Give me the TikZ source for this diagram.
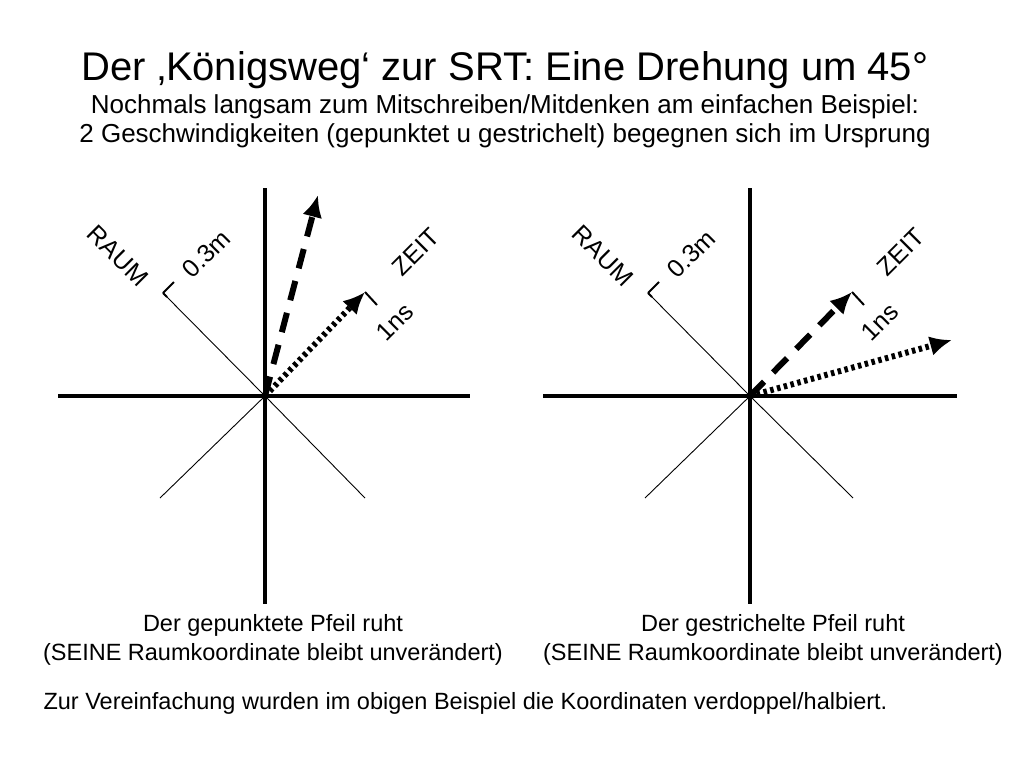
\documentclass[tikz,border=0pt]{standalone}
\usepackage{fontspec}
\setmainfont{Liberation Sans}
\usetikzlibrary{arrows.meta}
\begin{document}
\begin{tikzpicture}[x=1pt,y=-1pt,
  axis/.style={line width=3.5pt},
  diag/.style={line width=0.9pt},
  tickmark/.style={line width=2pt},
  dotarr/.style={line width=6pt,dash pattern=on 3.5pt off 3.5pt,-{Latex[length=22pt,width=20pt]}},
  dasharr/.style={line width=6pt,dash pattern=on 20pt off 13pt,-{Latex[length=22pt,width=20pt]}},
  lab/.style={font=\fontsize{25}{28}\selectfont,inner sep=0pt},
  captxt/.style={font=\fontsize{23.5}{29}\selectfont,align=center}]
\useasboundingbox (0,0) rectangle (1024,768);
\node (t1) at (505,70) {\fontsize{40}{46}\selectfont Der ‚Königsweg‘ zur SRT: Eine Drehung um 45°};
\node (t2) at (505,107) {\fontsize{26}{30}\selectfont Nochmals langsam zum Mitschreiben/Mitdenken am einfachen Beispiel:};
\node (t3) at (505,136) {\fontsize{26}{30}\selectfont 2 Geschwindigkeiten (gepunktet u gestrichelt) begegnen sich im Ursprung};
% left diagram
\coordinate (o1) at (265,396);
\coordinate (a1t) at (265,188); \coordinate (a1b) at (265,604);
\coordinate (a1l) at (58,396); \coordinate (a1r) at (470,396);
\coordinate (r1) at (163,293); \coordinate (r1t) at (174,282);
\coordinate (d1l) at (160,498); \coordinate (d1r) at (365,498);
\coordinate (z1) at (365,292); \coordinate (z1t) at (377,305);
\coordinate (v1) at (318,195);
\draw[axis] (a1t) -- (a1b); \draw[axis] (a1l) -- (a1r);
\draw[diag] (o1) -- (r1); \draw[tickmark] (r1) -- (r1t); \draw[tickmark] (r1) -- ++(4,4);
\draw[diag] (o1) -- (d1l); \draw[diag] (o1) -- (d1r);
\draw[dotarr] (o1) -- (z1); \draw[tickmark] (z1) -- (z1t);
\draw[dasharr] (o1) -- (v1);
\node[lab,rotate=-45] (raum1) at (118,256) {RAUM};
\node[lab,rotate=45] (m1) at (206,254) {0.3m};
\node[lab,rotate=45] (zeit1) at (416,252) {ZEIT};
\node[lab,rotate=45] (ns1) at (395,322) {1ns};
\node[captxt] (c1) at (273,640) {Der gepunktete Pfeil ruht\\(SEINE Raumkoordinate bleibt unverändert)};
% right diagram
\coordinate (o2) at (750,396);
\coordinate (a2t) at (750,188); \coordinate (a2b) at (750,604);
\coordinate (a2l) at (543,396); \coordinate (a2r) at (957,396);
\coordinate (r2) at (648,293); \coordinate (r2t) at (659,282);
\coordinate (d2l) at (645,498); \coordinate (d2r) at (853,498);
\coordinate (z2) at (852,292); \coordinate (z2t) at (864,305);
\coordinate (v2) at (952,340);
\draw[axis] (a2t) -- (a2b); \draw[axis] (a2l) -- (a2r);
\draw[diag] (o2) -- (r2); \draw[tickmark] (r2) -- (r2t); \draw[tickmark] (r2) -- ++(4,4);
\draw[diag] (o2) -- (d2l); \draw[diag] (o2) -- (d2r);
\draw[dasharr] (o2) -- (z2); \draw[tickmark] (z2) -- (z2t);
\draw[dotarr] (o2) -- (v2);
\node[lab,rotate=-45] (raum2) at (603,256) {RAUM};
\node[lab,rotate=45] (m2) at (691,254) {0.3m};
\node[lab,rotate=45] (zeit2) at (901,252) {ZEIT};
\node[lab,rotate=45] (ns2) at (880,322) {1ns};
\node[captxt] (c2) at (773,640) {Der gestrichelte Pfeil ruht\\(SEINE Raumkoordinate bleibt unverändert)};
\node[captxt,anchor=west] (n) at (40,703) {Zur Vereinfachung wurden im obigen Beispiel die Koordinaten verdoppel/halbiert.};
\end{tikzpicture}
\end{document}
